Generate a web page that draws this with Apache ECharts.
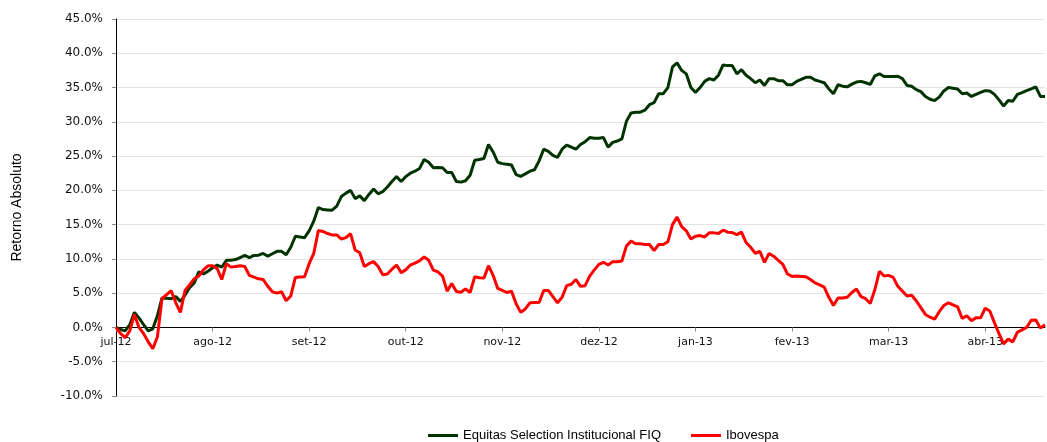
<!DOCTYPE html>
<html>
<head>
<meta charset="utf-8">
<script src="https://cdn.jsdelivr.net/npm/echarts@6/dist/echarts.min.js"></script>
<style>
  html, body { margin: 0; padding: 0; background: #fff; }
  #chart { width: 1047px; height: 442px; }
</style>
</head>
<body>
<div id="chart"></div>
<script>
// rótulos do eixo x (um a cada 21 pregões)
var monthLabels = ['jul-12', 'ago-12', 'set-12', 'out-12', 'nov-12', 'dez-12', 'jan-13', 'fev-13', 'mar-13', 'abr-13'];
var daysPerLabel = 21;

// retorno acumulado (%) por pregão
var equitas = [
  0.0, -0.3, -0.5, 0.4, 2.2, 1.4, 0.4, -0.5, -0.2, 1.7,
  4.3, 4.25, 4.2, 4.5, 3.8, 4.7, 5.8, 6.5, 8.1, 7.8,
  8.2, 8.7, 9.1, 8.8, 9.8, 9.8, 9.9, 10.2, 10.5, 10.2,
  10.5, 10.55, 10.8, 10.4, 10.75, 11.1, 11.1, 10.6, 11.7, 13.3,
  13.2, 13.1, 14.1, 15.5, 17.5, 17.2, 17.15, 17.1, 17.7, 19.1,
  19.6, 20.0, 18.8, 19.2, 18.5, 19.4, 20.2, 19.5, 19.8, 20.5,
  21.3, 22.0, 21.3, 22.0, 22.5, 22.8, 23.2, 24.5, 24.1, 23.3,
  23.35, 23.3, 22.6, 22.6, 21.3, 21.2, 21.4, 22.2, 24.4, 24.5,
  24.65, 26.7, 25.6, 24.1, 23.9, 23.8, 23.7, 22.3, 22.05, 22.4,
  22.8, 23.0, 24.3, 26.0, 25.7, 25.1, 24.8, 26.0, 26.6, 26.3,
  26.0, 26.7, 27.1, 27.7, 27.6, 27.6, 27.7, 26.3, 27.0, 27.2,
  27.5, 30.1, 31.3, 31.4, 31.4, 31.7, 32.5, 32.8, 34.1, 34.1,
  35.0, 38.0, 38.6, 37.5, 37.0, 35.0, 34.3, 35.0, 35.9, 36.3,
  36.1, 36.8, 38.3, 38.2, 38.2, 37.0, 37.6, 36.8, 36.3, 35.7,
  36.1, 35.3, 36.3, 36.3, 36.0, 36.0, 35.4, 35.4, 35.9, 36.2,
  36.5, 36.5, 36.1, 35.9, 35.7, 34.8, 34.1, 35.4, 35.2, 35.1,
  35.5, 35.8, 35.9, 35.7, 35.45, 36.7, 37.0, 36.6, 36.6, 36.6,
  36.65, 36.3, 35.3, 35.2, 34.7, 34.4, 33.7, 33.3, 33.1, 33.6,
  34.5, 35.0, 34.9, 34.8, 34.1, 34.2, 33.7, 34.0, 34.3, 34.55,
  34.5, 34.0, 33.2, 32.3, 33.1, 33.0, 34.0, 34.25, 34.55, 34.8,
  35.1, 33.7, 33.7
];

var ibovespa = [
  0.0, -0.9, -1.5, -0.5, 1.9, 0.0, -0.9, -2.1, -3.1, -1.4,
  4.2, 4.8, 5.35, 3.6, 2.2, 5.4, 6.2, 7.1, 7.5, 8.4,
  9.0, 9.0, 8.6, 7.0, 9.3, 8.8, 8.9, 9.0, 8.9, 7.6,
  7.35, 7.1, 7.0, 6.0, 5.2, 5.0, 5.2, 3.9, 4.6, 7.3,
  7.35, 7.4, 9.3, 10.8, 14.15, 14.0, 13.7, 13.5, 13.5, 12.9,
  13.1, 13.7, 11.3, 10.9, 8.9, 9.3, 9.6, 8.9, 7.7, 7.8,
  8.5, 9.1, 8.0, 8.4, 9.1, 9.4, 9.7, 10.3, 9.8, 8.35,
  8.1, 7.5, 5.3, 6.4, 5.25, 5.15, 5.6, 5.1, 7.4, 7.25,
  7.2, 9.0, 7.6, 5.7, 5.4, 5.1, 5.3, 3.45, 2.2, 2.7,
  3.6, 3.65, 3.65, 5.4, 5.4, 4.5, 3.6, 4.4, 6.1, 6.3,
  7.0, 6.0, 6.1, 7.5, 8.4, 9.2, 9.5, 9.1, 9.6, 9.6,
  9.7, 11.9, 12.6, 12.2, 12.2, 12.1, 12.1, 11.2, 12.1, 12.1,
  12.5, 15.0, 16.1, 14.7, 14.1, 12.9, 13.3, 13.4, 13.2, 13.8,
  13.8, 13.7, 14.2, 13.9, 13.85, 13.55, 13.9, 12.4, 11.7, 10.8,
  11.1, 9.5, 10.8, 10.4, 9.8, 9.2, 7.8, 7.45, 7.5, 7.45,
  7.4, 7.0, 6.5, 6.2, 5.9, 4.4, 3.2, 4.3, 4.3, 4.4,
  5.1, 5.6, 4.5, 4.2, 3.5, 5.5, 8.2, 7.5, 7.6, 7.3,
  6.0, 5.3, 4.6, 4.7, 3.9, 2.9, 1.9, 1.5, 1.2, 2.3,
  3.2, 3.6, 3.3, 3.0, 1.3, 1.7, 1.0, 1.4, 1.4, 2.8,
  2.4, 0.7, -0.9, -2.4, -1.7, -2.1, -0.7, -0.35, 0.0, 1.05,
  1.1, -0.1, 0.4
];

var yTicks = { min: -10, max: 45, step: 5 };

function toPairs(arr) {
  return arr.map(function (v, i) { return [i, v]; });
}

var labelDays = monthLabels.map(function (m, k) { return k * daysPerLabel; });

// altura do grid e posição do zero, para levar o eixo x até a linha de 0%
var gridTop = 19, gridBottom = 46, chartH = 442;
var plotH = chartH - gridTop - gridBottom;
var zeroOffset = -plotH * (0 - yTicks.min) / (yTicks.max - yTicks.min);

var myChart = echarts.init(document.getElementById('chart'), null, { renderer: 'canvas' });
var option = {
  backgroundColor: '#ffffff',
  animation: false,
  grid: {
    left: 116,
    right: 2,
    top: gridTop,
    bottom: gridBottom
  },
  legend: {
    left: 428,
    top: 429,
    padding: 0,
    icon: 'rect',
    itemWidth: 30,
    itemHeight: 3,
    itemGap: 30,
    textStyle: {
      fontFamily: 'Liberation Sans, Arial, sans-serif',
      fontSize: 13,
      color: '#000'
    },
    data: ['Equitas Selection Institucional FIQ', 'Ibovespa']
  },
  xAxis: {
    type: 'value',
    min: 0,
    max: equitas.length - 1,
    offset: zeroOffset,
    axisLine: {
      onZero: false,
      lineStyle: { color: '#000', width: 1 }
    },
    axisTick: {
      show: true,
      length: 4,
      customValues: labelDays,
      lineStyle: { color: '#888' }
    },
    axisLabel: {
      customValues: labelDays,
      margin: 9,
      fontFamily: 'DejaVu Sans, Verdana, sans-serif',
      fontSize: 11,
      color: '#111',
      formatter: function (v) {
        var k = Math.round(v / daysPerLabel);
        return monthLabels[k] || '';
      }
    },
    splitLine: { show: false }
  },
  yAxis: {
    type: 'value',
    min: yTicks.min,
    max: yTicks.max,
    interval: yTicks.step,
    name: 'Retorno Absoluto',
    nameLocation: 'middle',
    nameGap: 92,
    nameTextStyle: {
      fontFamily: 'Liberation Sans, Arial, sans-serif',
      fontSize: 14,
      color: '#000'
    },
    axisLine: {
      show: true,
      lineStyle: { color: '#000', width: 1 }
    },
    axisTick: {
      show: true,
      length: 4,
      lineStyle: { color: '#888' }
    },
    axisLabel: {
      margin: 13,
      fontFamily: 'DejaVu Sans, Verdana, sans-serif',
      fontSize: 12,
      color: '#111',
      formatter: function (v) { return v.toFixed(1) + '%'; }
    },
    splitLine: {
      show: true,
      lineStyle: { color: '#e3e3e3', width: 1 }
    }
  },
  series: [{
    name: 'Equitas Selection Institucional FIQ',
    type: 'line',
    data: toPairs(equitas),
    showSymbol: false,
    color: '#003300',
    lineStyle: { color: '#003300', width: 3 }
  }, {
    name: 'Ibovespa',
    type: 'line',
    data: toPairs(ibovespa),
    showSymbol: false,
    color: '#ff0000',
    lineStyle: { color: '#ff0000', width: 3 }
  }]
};
myChart.setOption(option);
</script>
</body>
</html>
